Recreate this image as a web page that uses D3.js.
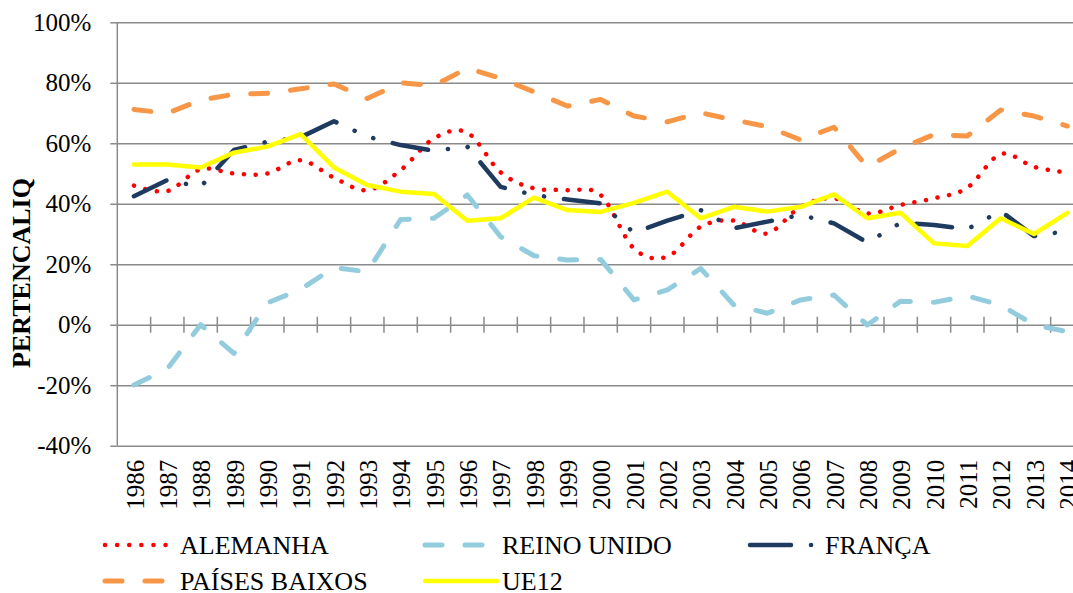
<!DOCTYPE html>
<html>
<head>
<meta charset="utf-8">
<script src="https://cdn.jsdelivr.net/npm/d3@7"></script>
<style>
  body { margin: 0; background: #fff; }
  svg { display: block; }
  svg text { font-family: "Liberation Serif", "Times New Roman", "DejaVu Serif", serif; }
  .grid line { stroke: #8a8a8a; stroke-width: 1.5; }
  .grid path { display: none; }
</style>
</head>
<body>
<svg id="chart" width="1073" height="593"></svg>
<script>
// anos
const years = d3.range(1986, 2015).map(String);

// valores em %
const alemanha = [46.0, 44.2, 51.4, 50.0, 50.0, 54.4, 48.6, 44.5, 51.1, 61.6, 63.5, 50.4, 45.1, 44.5, 42.9,
  25.2, 22.5, 32.4, 34.4, 30.2, 39.0, 41.8, 36.8, 39.6, 41.8, 45.3, 56.4, 52.2, 50.3];
const reinoUnido = [-19.9, -14.6, 0.0, -9.5, 7.2, 11.7, 18.9, 17.5, 34.8, 35.2, 42.9, 29.1, 22.8, 21.4, 21.6,
  8.2, 11.5, 18.6, 6.5, 3.8, 8.2, 9.8, -0.1, 7.8, 7.4, 9.5, 6.5, 0.0, -2.3];
const franca = [42.5, 47.8, 45.6, 57.8, 60.5, 62.0, 67.3, 62.2, 59.4, 57.5, 58.9, 45.6, 42.9, 41.4, 40.1,
  30.4, 34.4, 37.9, 31.9, 34.1, 36.3, 33.5, 27.2, 33.7, 33.0, 31.6, 37.6, 29.3, 31.0];
const paisesBaixos = [71.2, 69.9, 74.3, 76.2, 76.5, 78.0, 79.6, 74.8, 80.0, 79.1, 84.8, 81.5, 77.0, 72.3, 74.5,
  69.0, 67.1, 70.1, 67.7, 65.5, 61.1, 65.3, 52.2, 58.3, 62.9, 62.4, 71.0, 69.0, 65.7];
const ue12 = [53.0, 53.0, 52.0, 56.9, 58.9, 63.0, 52.0, 46.2, 44.0, 43.2, 34.4, 35.2, 42.0, 37.9, 37.3,
  40.3, 44.0, 35.2, 39.0, 37.4, 39.0, 43.1, 35.2, 37.0, 26.9, 26.0, 35.2, 30.0, 37.0];

const yTicks = [-40, -20, 0, 20, 40, 60, 80, 100];

const series = [
  { name: "ALEMANHA", values: alemanha, color: "#ff0000", width: 4.5, dash: "0.1,11.7", smooth: true },
  { name: "REINO UNIDO", values: reinoUnido, color: "#93cddd", width: 5, dash: "17,23", smooth: false },
  { name: "FRANÇA", values: franca, color: "#1f3a5f", width: 4.5, dash: "36,20,0.1,20,0.1,20", smooth: false },
  { name: "PAÍSES BAIXOS", values: paisesBaixos, color: "#f79646", width: 5, dash: "17,23", smooth: false },
  { name: "UE12", values: ue12, color: "#ffff00", width: 4.5, dash: null, smooth: false }
];

const serif = '"Liberation Serif", "Times New Roman", serif';
const svg = d3.select("#chart");
const plotLeft = 117.3, plotRight = 1084, plotTop = 22.3, plotBottom = 445.7;

const x = d3.scaleBand().domain(years).range([plotLeft, plotRight]).padding(0);
const y = d3.scaleLinear().domain([-40, 100]).range([plotBottom, plotTop]);

// grelha horizontal
svg.append("g")
  .attr("class", "grid")
  .attr("transform", `translate(${plotLeft},0)`)
  .call(d3.axisLeft(y).tickValues(yTicks).tickSize(-(plotRight - plotLeft)).tickFormat(""));

// eixo vertical com rótulos
const yAxis = svg.append("g")
  .attr("class", "grid")
  .attr("transform", `translate(${plotLeft},0)`)
  .call(d3.axisLeft(y).tickValues(yTicks).tickSize(7).tickPadding(19).tickFormat(d => d + "%"));
yAxis.attr("font-family", serif).attr("font-size", 25);
yAxis.selectAll("text")
  .attr("fill", "#000");

svg.append("line")
  .attr("x1", plotLeft).attr("x2", plotLeft)
  .attr("y1", plotTop).attr("y2", plotBottom)
  .attr("stroke", "#8a8a8a").attr("stroke-width", 1.5);

// marcas do eixo x, nos limites das categorias (linha do 0%)
svg.append("g")
  .selectAll("line")
  .data(years.slice(1))
  .join("line")
  .attr("x1", d => x(d)).attr("x2", d => x(d))
  .attr("y1", y(0) - 8).attr("y2", y(0) + 8)
  .attr("stroke", "#8a8a8a").attr("stroke-width", 1.5);

// rótulos dos anos
const xAxis = svg.append("g")
  .attr("transform", `translate(0,${plotBottom})`)
  .call(d3.axisBottom(x).tickSize(0).tickPadding(0));
xAxis.attr("font-family", serif).attr("font-size", 25);
xAxis.select(".domain").remove();
xAxis.selectAll("text")
  .attr("fill", "#000")
  .attr("text-anchor", "end")
  .attr("transform", "translate(1,14) rotate(-90)")
  .attr("x", 0)
  .attr("y", 0)
  .attr("dy", "0.35em");

// título do eixo
svg.append("text")
  .attr("transform", "translate(30,273) rotate(-90)")
  .attr("text-anchor", "middle")
  .attr("font-family", serif)
  .attr("font-size", 26)
  .attr("font-weight", "bold")
  .text("PERTENCALIQ");

// linhas
series.forEach(s => {
  const line = d3.line()
    .x((d, i) => x(years[i]) + x.bandwidth() / 2)
    .y(d => y(d))
    .curve(s.smooth ? d3.curveCardinal.tension(0) : d3.curveLinear);
  svg.append("path")
    .datum(s.values)
    .attr("d", line)
    .attr("fill", "none")
    .attr("stroke", s.color)
    .attr("stroke-width", s.width)
    .attr("stroke-linecap", "round")
    .attr("stroke-linejoin", "round")
    .attr("stroke-dasharray", s.dash);
});

// legenda
const legendPos = [
  { x: 105, y: 545 }, { x: 425, y: 545 }, { x: 748, y: 545 },
  { x: 105, y: 581 }, { x: 425, y: 581 }
];
const legend = svg.append("g")
  .selectAll("g")
  .data(series)
  .join("g")
  .attr("transform", (d, i) => `translate(${legendPos[i].x},${legendPos[i].y})`);

legend.append("line")
  .attr("x1", d => (d.name === "FRANÇA" ? 2 : 0))
  .attr("x2", d => (d.name === "ALEMANHA" ? 61 : d.name === "FRANÇA" ? 66 : 72))
  .attr("y1", 0).attr("y2", 0)
  .attr("stroke", d => d.color)
  .attr("stroke-width", d => d.width)
  .attr("stroke-linecap", "round")
  .attr("stroke-dasharray", d => (d.name === "ALEMANHA" ? "0.1,12" : d.name === "FRANÇA" ? "41,20,0.1,20" : d.dash));

legend.append("text")
  .attr("x", (d, i) => (i === 0 || i === 3 ? 75 : 77))
  .attr("y", 9)
  .attr("font-family", serif)
  .attr("font-size", 26)
  .text(d => d.name);
</script>
</body>
</html>
